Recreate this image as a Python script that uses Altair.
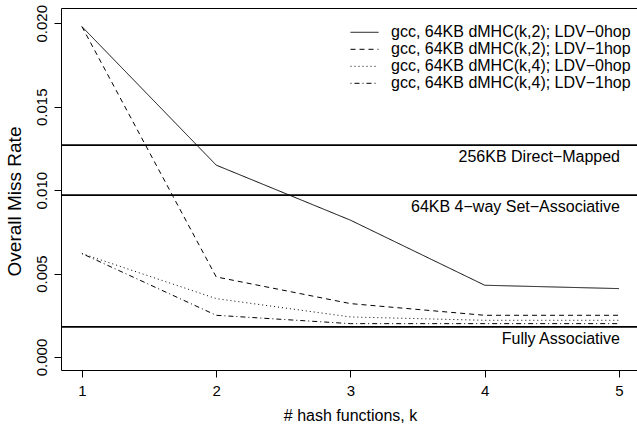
import altair as alt
import pandas as pd

# ---- data ----
k_values = [1, 2, 3, 4, 5]
series_names = [
    "gcc, 64KB dMHC(k,2); LDV\u22120hop",
    "gcc, 64KB dMHC(k,2); LDV\u22121hop",
    "gcc, 64KB dMHC(k,4); LDV\u22120hop",
    "gcc, 64KB dMHC(k,4); LDV\u22121hop",
]
s_k2_0hop = [0.0198, 0.0115, 0.0082, 0.0043, 0.0041]
s_k2_1hop = [0.0198, 0.0048, 0.0032, 0.0025, 0.0025]
s_k4_0hop = [0.0062, 0.0035, 0.0024, 0.0022, 0.0022]
s_k4_1hop = [0.0062, 0.0025, 0.0020, 0.0020, 0.0020]

ref_labels = ["256KB Direct\u2212Mapped", "64KB 4\u2212way Set\u2212Associative", "Fully Associative"]
ref_values = [0.0127, 0.0097, 0.0018]
ref_label_x = [5.0, 5.0, 5.0]

y_ticks = [0.0, 0.005, 0.010, 0.015, 0.020]

FONT = "Liberation Sans"

rows = []
for name, vals in zip(series_names, [s_k2_0hop, s_k2_1hop, s_k4_0hop, s_k4_1hop]):
    for k, v in zip(k_values, vals):
        rows.append({"k": k, "rate": v, "series": name})
df = pd.DataFrame(rows)
ref_df = pd.DataFrame({"label": ref_labels, "rate": ref_values, "k": ref_label_x})

x_scale = alt.Scale(domain=[0.844, 5.134], nice=False, zero=False)
y_scale = alt.Scale(domain=[-0.000779, 0.020917], nice=False, zero=False)

x_axis = alt.Axis(
    values=k_values, format="d", title="# hash functions, k",
    grid=False, domain=False, tickSize=7, tickColor="black",
    labelFontSize=15, labelFont=FONT, labelColor="black",
    labelBaseline="top", labelPadding=6, labelFlush=False,
    titleFontSize=16, titleFont=FONT, titleFontWeight="normal", titleColor="black",
    titleX=289, titleY=50, titleBaseline="alphabetic", titleAlign="center",
)
y_axis = alt.Axis(
    values=y_ticks, format=".3f", title="Overall Miss Rate",
    grid=False, domain=False, tickSize=7, tickColor="black",
    labelFontSize=15, labelFont=FONT, labelColor="black",
    labelAngle=270, labelAlign="center", labelBaseline="alphabetic", labelPadding=8,
    labelFlush=False,
    titleFontSize=19, titleFont=FONT, titleFontWeight="normal", titleColor="black",
    titleAngle=270, titleX=-41, titleY=193, titleBaseline="alphabetic", titleAlign="center",
)

lines = alt.Chart(df).mark_line(color="black", strokeWidth=1).encode(
    x=alt.X("k:Q", scale=x_scale, axis=x_axis),
    y=alt.Y("rate:Q", scale=y_scale, axis=y_axis),
    strokeDash=alt.StrokeDash(
        "series:N",
        scale=alt.Scale(domain=series_names, range=[[1, 0], [5, 4], [1, 3], [1, 3, 5, 3]]),
        legend=alt.Legend(
            title=None, orient="none", legendX=289, legendY=18,
            symbolType="stroke", symbolSize=784, symbolStrokeWidth=1,
            symbolStrokeColor="black", labelFontSize=16, labelFont=FONT,
            labelColor="black", labelOffset=12, rowPadding=0, padding=0,
            clipHeight=12.6, labelLimit=400,
        ),
    ),
    detail="series:N",
)

rules = alt.Chart(ref_df).mark_rule(color="black", strokeWidth=1.8).encode(
    y=alt.Y("rate:Q", scale=y_scale),
)

ref_text = alt.Chart(ref_df).mark_text(
    align="right", baseline="middle", dy=12, dx=1, fontSize=16, font=FONT, color="black"
).encode(
    x=alt.X("k:Q", scale=x_scale),
    y=alt.Y("rate:Q", scale=y_scale),
    text="label:N",
)

chart = alt.layer(lines, rules, ref_text).properties(
    width=576, height=362,
    autosize=alt.AutoSizeParams(type="none"),
    padding={"left": 61, "top": 8, "right": 0, "bottom": 55},
    background="white",
).configure_view(stroke="black", strokeWidth=1)

chart.save("out.html", embed_options={"renderer": "svg", "actions": False})
